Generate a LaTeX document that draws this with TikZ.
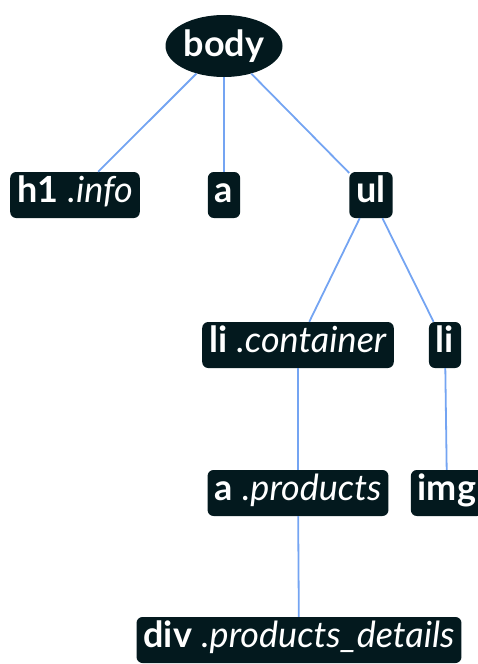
\documentclass[tikz,border=0pt]{standalone}
\usepackage{fontspec}
\setmainfont{Lato}
\usepackage{xcolor}
\usetikzlibrary{shapes.geometric}

\definecolor{tagfill}{HTML}{03191E}
\definecolor{linkblue}{HTML}{74A4F2}

\tikzset{
  tag/.style={fill=tagfill, text=white, rounded corners=6pt, inner xsep=7pt, inner ysep=4pt,
    text height=26pt, text depth=12pt, font=\fontsize{36}{40}\selectfont},
  root/.style={ellipse, fill=tagfill, text=white, minimum width=117pt, minimum height=62pt,
    inner sep=0pt, font=\fontsize{36}{40}\selectfont\bfseries},
  edge/.style={draw=linkblue, line width=1.8pt}
}

\newcommand{\cls}[2]{\textbf{#1} \textit{#2}}

\begin{document}
\begin{tikzpicture}[x=1pt, y=-1pt]
\useasboundingbox (0,0) rectangle (477,664);

% Root
\node[root] (body) at (224,46) {body};

% Level 1
\node[tag] (h1) at (75,195) {\cls{h1}{.info}};
\node[tag] (a) at (224,195) {\textbf{a}};
\node[tag] (ul) at (371,195) {\textbf{ul}};

% Level 2
\node[tag] (licont) at (298,345) {\cls{li}{.container}};
\node[tag] (li) at (445,345) {\textbf{li}};

% Level 3
\node[tag] (aprod) at (298,493) {\cls{a}{.products}};
\node[tag] (img) at (447,493) {\textbf{img}};

% Level 4
\node[tag] (div) at (299,640) {\cls{div}{.products\_details}};

% Edges
\draw[edge] (body) -- (h1);
\draw[edge] (body) -- (a);
\draw[edge] (body) -- (ul);

\draw[edge] (ul) -- (licont);
\draw[edge] (ul) -- (li);

\draw[edge] (licont) -- (aprod);
\draw[edge] (li) -- (img);

\draw[edge] (aprod) -- (div);
\end{tikzpicture}
\end{document}
